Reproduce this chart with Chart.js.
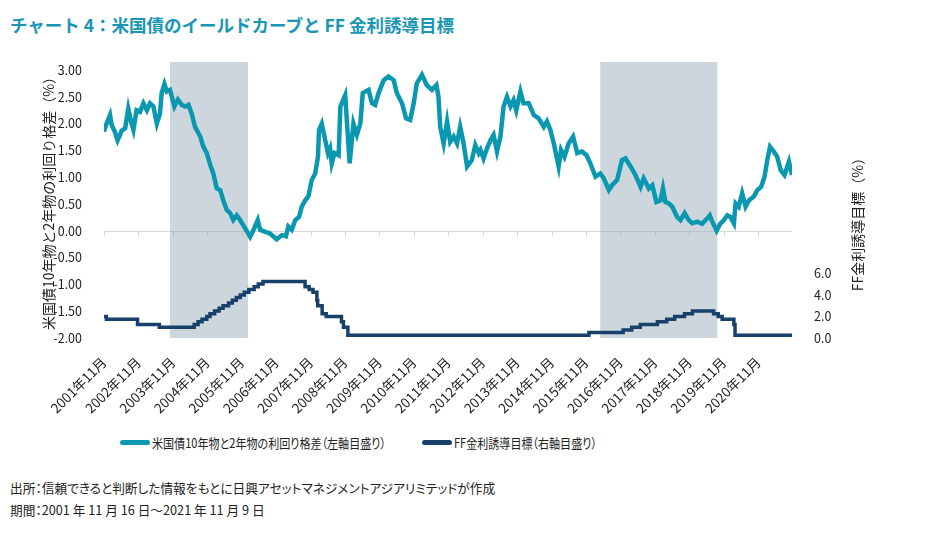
<!DOCTYPE html>
<html lang="ja">
<head>
<meta charset="utf-8">
<script src="https://cdn.jsdelivr.net/npm/chart.js@4.4.0/dist/chart.umd.min.js"></script>
<style>
  body { margin: 0; background: #fff; width: 937px; height: 552px; position: relative; overflow: hidden;
         font-family: "Noto Sans CJK JP", "Noto Sans", sans-serif; color: #222; }
  .title { position: absolute; left: 10px; top: 12px; font-size: 17.5px; font-weight: bold; color: #1996b4;
           white-space: nowrap; }
  #wrap { position: absolute; left: 0; top: 0; width: 937px; height: 420px; }
  .item { position: absolute; top: 432px; height: 20px; display: flex; align-items: center; white-space: nowrap; }
  .sw { width: 30px; height: 5px; border-radius: 3px; margin-right: 2px; }
  .item span { font-size: 13px; transform: scaleX(0.85); transform-origin: left center; font-feature-settings: "palt"; }
  .note { position: absolute; left: 10px; font-size: 12.7px; font-feature-settings: "palt"; white-space: nowrap; }
</style>
</head>
<body>
<div class="title">チャート 4：米国債のイールドカーブと FF 金利誘導目標</div>
<div id="wrap"><canvas id="chart"></canvas></div>
<div class="item" style="left:120px"><div class="sw" style="background:#0a97b0"></div><span>米国債10年物と2年物の利回り格差（左軸目盛り）</span></div>
<div class="item" style="left:422px"><div class="sw" style="background:#17406b"></div><span>FF金利誘導目標（右軸目盛り）</span></div>
<div class="note" style="top:478px">出所：信頼できると判断した情報をもとに日興アセットマネジメントアジアリミテッドが作成</div>
<div class="note" style="top:500px">期間：2001 年 11 月 16 日～2021 年 11 月 9 日</div>

<script>
// 10年-2年 利回り格差 (左軸), 日付は小数年
const spreadDates = [
  2001.875, 2001.95, 2002.05, 2002.10, 2002.19, 2002.27, 2002.39, 2002.49, 2002.58, 2002.66,
  2002.73, 2002.82, 2002.92, 2003.02, 2003.12, 2003.21, 2003.31, 2003.41, 2003.50, 2003.55,
  2003.63, 2003.70, 2003.79, 2003.92, 2004.02, 2004.13, 2004.23, 2004.33, 2004.42, 2004.52,
  2004.67, 2004.76, 2004.86, 2004.96, 2005.05, 2005.15, 2005.25, 2005.34, 2005.44, 2005.54,
  2005.63, 2005.73, 2005.83, 2005.97, 2006.12, 2006.22, 2006.34, 2006.41, 2006.56, 2006.70,
  2006.89, 2007.04, 2007.16, 2007.23, 2007.33, 2007.43, 2007.54, 2007.62, 2007.72, 2007.81,
  2007.91, 2008.01, 2008.09, 2008.12, 2008.20, 2008.30, 2008.38, 2008.44, 2008.49, 2008.57,
  2008.69, 2008.74, 2008.88, 2009.01, 2009.12, 2009.22, 2009.32, 2009.39, 2009.56, 2009.66,
  2009.75, 2009.85, 2010.00, 2010.14, 2010.29, 2010.38, 2010.53, 2010.65, 2010.77, 2010.87,
  2010.96, 2011.11, 2011.25, 2011.40, 2011.53, 2011.59, 2011.64, 2011.74, 2011.84, 2011.93,
  2012.03, 2012.13, 2012.22, 2012.32, 2012.42, 2012.56, 2012.66, 2012.76, 2012.81, 2012.90,
  2013.00, 2013.10, 2013.19, 2013.29, 2013.39, 2013.48, 2013.58, 2013.68, 2013.77, 2013.85,
  2013.97, 2014.06, 2014.21, 2014.36, 2014.50, 2014.65, 2014.74, 2014.84, 2014.94, 2015.08,
  2015.15, 2015.25, 2015.37, 2015.50, 2015.62, 2015.76, 2015.89, 2016.00, 2016.15, 2016.29,
  2016.39, 2016.54, 2016.63, 2016.78, 2016.92, 2017.02, 2017.17, 2017.31, 2017.46, 2017.55,
  2017.70, 2017.80, 2017.92, 2018.04, 2018.11, 2018.18, 2018.28, 2018.38, 2018.52, 2018.62,
  2018.74, 2018.86, 2018.96, 2019.10, 2019.25, 2019.35, 2019.47, 2019.54, 2019.67, 2019.78,
  2019.88, 2019.98, 2020.07, 2020.17, 2020.22, 2020.31, 2020.41, 2020.51, 2020.61, 2020.75,
  2020.85, 2020.96, 2021.06, 2021.14, 2021.22, 2021.33, 2021.43, 2021.53, 2021.64, 2021.77,
  2021.858
];
const spreadValues = [
  1.85, 2.00, 2.16, 1.97, 1.85, 1.69, 1.87, 1.91, 2.28, 2.04,
  1.88, 2.25, 2.22, 2.38, 2.25, 2.38, 2.32, 2.00, 2.19, 2.57,
  2.74, 2.60, 2.63, 2.32, 2.45, 2.35, 2.32, 2.35, 2.19, 1.94,
  1.76, 1.57, 1.45, 1.23, 1.07, 0.79, 0.76, 0.57, 0.39, 0.33,
  0.20, 0.29, 0.20, 0.05, -0.11, 0.02, 0.20, 0.02, -0.02, -0.05,
  -0.16, -0.08, -0.10, 0.08, 0.02, 0.20, 0.26, 0.45, 0.57, 0.64,
  0.95, 1.07, 1.38, 1.88, 2.00, 1.69, 1.45, 1.54, 1.26, 1.45,
  1.41, 2.32, 2.53, 1.26, 2.00, 1.79, 2.00, 2.57, 2.63, 2.38,
  2.35, 2.57, 2.81, 2.88, 2.81, 2.57, 2.38, 2.10, 2.07, 2.38,
  2.75, 2.91, 2.72, 2.63, 2.72, 2.50, 1.94, 1.63, 2.04, 1.66,
  1.76, 1.63, 1.94, 1.63, 1.20, 1.32, 1.60, 1.45, 1.51, 1.35,
  1.54, 1.69, 1.79, 1.48, 1.76, 2.32, 2.50, 2.32, 2.44, 2.25,
  2.60, 2.38, 2.38, 2.16, 2.10, 1.94, 2.04, 1.88, 1.63, 1.20,
  1.51, 1.38, 1.63, 1.76, 1.45, 1.48, 1.41, 1.26, 1.01, 1.07,
  0.98, 0.76, 0.85, 0.95, 1.32, 1.35, 1.20, 1.04, 0.82, 0.98,
  0.79, 0.85, 0.54, 0.57, 0.79, 0.54, 0.51, 0.45, 0.26, 0.20,
  0.33, 0.20, 0.14, 0.17, 0.13, 0.20, 0.29, 0.17, 0.00, 0.14,
  0.20, 0.29, 0.26, 0.14, 0.51, 0.45, 0.70, 0.45, 0.57, 0.64,
  0.76, 0.82, 1.01, 1.32, 1.57, 1.48, 1.38, 1.13, 1.04, 1.29,
  1.04
];

// FF金利誘導目標 (右軸): 変更日と新しい水準
const ffDates = [
  2001.875, 2001.945, 2002.849, 2003.482, 2004.495, 2004.608, 2004.722, 2004.860, 2004.953, 2005.088,
  2005.219, 2005.334, 2005.493, 2005.603, 2005.718, 2005.833, 2005.948, 2006.082, 2006.236, 2006.356,
  2006.493, 2007.715, 2007.833, 2007.945, 2008.058, 2008.081, 2008.211, 2008.329, 2008.772, 2008.830,
  2008.959, 2015.959, 2016.953, 2017.203, 2017.452, 2017.948, 2018.219, 2018.449, 2018.737, 2018.967,
  2019.581, 2019.715, 2019.830, 2020.170, 2020.203, 2021.858
];
const ffValues = [
  2.00, 1.75, 1.25, 1.00, 1.25, 1.50, 1.75, 2.00, 2.25, 2.50,
  2.75, 3.00, 3.25, 3.50, 3.75, 4.00, 4.25, 4.50, 4.75, 5.00,
  5.25, 4.75, 4.50, 4.25, 3.50, 3.00, 2.25, 2.00, 1.50, 1.00,
  0.25, 0.50, 0.75, 1.00, 1.25, 1.50, 1.75, 2.00, 2.25, 2.50,
  2.25, 2.00, 1.75, 1.25, 0.25, 0.25
];

// 網掛け期間
const shadeStart = [2003.79, 2016.29];
const shadeEnd = [2006.06, 2019.69];

const xTickLabels = [
  '2001年11月', '2002年11月', '2003年11月', '2004年11月', '2005年11月', '2006年11月', '2007年11月',
  '2008年11月', '2009年11月', '2010年11月', '2011年11月', '2012年11月', '2013年11月', '2014年11月',
  '2015年11月', '2016年11月', '2017年11月', '2018年11月', '2019年11月', '2020年11月'
];
const xTickValues = xTickLabels.map((s) => parseInt(s) + 0.875);
const leftTicks = [-2, -1.5, -1, -0.5, 0, 0.5, 1, 1.5, 2, 2.5, 3];
const rightTicks = [0, 2, 4, 6];

const FONT = "'Noto Sans CJK JP', 'Noto Sans', sans-serif";
Chart.defaults.font.family = FONT;
Chart.defaults.color = '#222';

const overlay = {
  id: 'overlay',
  beforeDatasetsDraw(chart) {
    const { ctx, chartArea: a, scales: { x, y } } = chart;
    ctx.save();
    ctx.fillStyle = '#cdd5dd';
    shadeStart.forEach((s, i) => {
      const x0 = x.getPixelForValue(s);
      const x1 = x.getPixelForValue(shadeEnd[i]);
      ctx.fillRect(x0, a.top, x1 - x0, a.bottom - a.top);
    });
    // ゼロ線と目盛り
    const y0 = Math.round(y.getPixelForValue(0)) + 0.5;
    ctx.strokeStyle = 'rgba(160,168,178,0.45)';
    ctx.lineWidth = 1;
    ctx.beginPath();
    ctx.moveTo(a.left, y0);
    ctx.lineTo(a.right, y0);
    x.ticks.forEach((t) => {
      const px = Math.round(x.getPixelForValue(t.value)) + 0.5;
      ctx.moveTo(px, y0);
      ctx.lineTo(px, y0 + 5);
    });
    ctx.stroke();
    ctx.restore();
  },
  afterDraw(chart) {
    const { ctx, chartArea: a, scales: { y1 } } = chart;
    ctx.save();
    ctx.translate(y1.left + 66, (a.top + a.bottom) / 2 + 21);
    ctx.rotate(-Math.PI / 2);
    ctx.font = '14px ' + FONT;
    ctx.fillStyle = '#222';
    ctx.textAlign = 'center';
    ctx.textBaseline = 'middle';
    ctx.fillText('FF金利誘導目標（%）', 0, 0);
    ctx.restore();
  }
};

new Chart(document.getElementById('chart'), {
  type: 'line',
  data: {
    datasets: [
      {
        label: '米国債10年物と2年物の利回り格差（左軸目盛り）',
        data: spreadDates.map((d, i) => ({ x: d, y: spreadValues[i] })),
        borderColor: '#0a97b0',
        borderWidth: 4.5,
        pointRadius: 0,
        yAxisID: 'y',
      },
      {
        label: 'FF金利誘導目標（右軸目盛り）',
        data: ffDates.map((d, i) => ({ x: d, y: ffValues[i] })),
        borderColor: '#17406b',
        borderWidth: 3.5,
        pointRadius: 0,
        stepped: true,
        yAxisID: 'y1',
      }
    ]
  },
  options: {
    responsive: true,
    maintainAspectRatio: false,
    animation: false,
    layout: { padding: { top: 62, left: 0, right: 0, bottom: 0 } },
    plugins: { legend: { display: false }, tooltip: { enabled: false } },
    scales: {
      x: {
        type: 'linear',
        min: 2001.875,
        max: 2021.858,
        afterBuildTicks: (s) => { s.ticks = xTickValues.map((v) => ({ value: v })); },
        afterFit: (s) => { s.height = 82; },
        grid: { display: false },
        border: { display: false },
        ticks: {
          autoSkip: false,
          maxRotation: 45,
          minRotation: 45,
          padding: 8,
          font: { size: 13.5 },
          callback: (v, i) => xTickLabels[i],
        }
      },
      y: {
        position: 'left',
        min: -2,
        max: 3.15,
        afterBuildTicks: (s) => { s.ticks = leftTicks.map((v) => ({ value: v })); },
        afterFit: (s) => { s.width = 104; },
        grid: { display: false },
        border: { display: false },
        ticks: { padding: 14, font: { size: 12.5 }, callback: (v) => v.toFixed(2) },
        title: {
          display: true,
          text: '米国債10年物と2年物の利回り格差（%）',
          font: { size: 14 },
          color: '#222',
          padding: { top: 40, bottom: 0 },
        }
      },
      y1: {
        position: 'right',
        min: 0,
        max: 25.6,
        afterBuildTicks: (s) => { s.ticks = rightTicks.map((v) => ({ value: v })); },
        afterFit: (s) => { s.width = 145; },
        grid: { display: false },
        border: { display: false },
        ticks: { padding: 14, font: { size: 12.5 }, callback: (v) => v.toFixed(1) }
      }
    }
  },
  plugins: [overlay]
});
</script>
</body>
</html>
